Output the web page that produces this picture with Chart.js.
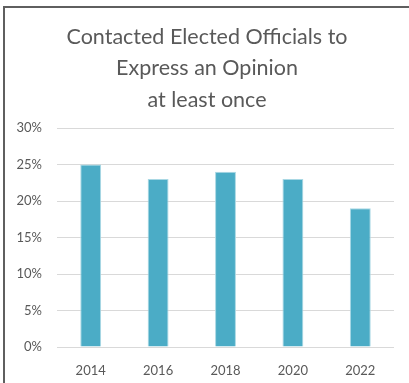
<!DOCTYPE html>
<html>
<head>
<meta charset="utf-8">
<script src="https://cdn.jsdelivr.net/npm/chart.js@4"></script>
<style>
  html, body { margin: 0; padding: 0; background: #fff; }
  .frame {
    position: absolute; left: 3px; top: 6px; right: 0; bottom: 0;
    border-top: 2px solid #5f5f5f; border-left: 2px solid #5f5f5f;
  }
  #chart { position: absolute; left: 0; top: 0; }
</style>
</head>
<body>
<div class="frame"></div>
<canvas id="chart" width="409" height="383"></canvas>
<script>
const years = ['2014', '2016', '2018', '2020', '2022'];
const contacted = [0.25, 0.23, 0.24, 0.23, 0.19];
const titleLines = ['Contacted Elected Officials to', 'Express an Opinion', 'at least once'];

const grey = '#595959';
const font = 'Lato, "Liberation Sans", sans-serif';

// three-line heading, centred on the whole frame rather than the plot
const headingPlugin = {
    id: 'heading',
    afterDraw(chart) {
        const c = chart.ctx;
        c.save();
        c.fillStyle = grey;
        c.font = '21.5px ' + font;
        c.textAlign = 'center';
        c.textBaseline = 'middle';
        titleLines.forEach((line, i) => c.fillText(line, 207, 37 + i * 31.5));
        c.restore();
    }
};

const ctx = document.getElementById('chart').getContext('2d');

new Chart(ctx, {
    type: 'bar',
    data: {
        labels: years,
        datasets: [{
            data: contacted,
            backgroundColor: '#4bacc6',
            borderColor: '#a9d8e4',
            borderWidth: 1,
            barPercentage: 0.31,
            categoryPercentage: 1
        }]
    },
    options: {
        responsive: false,
        animation: false,
        layout: { padding: { top: 128, right: 15, bottom: 0, left: 0 } },
        plugins: {
            legend: { display: false },
            tooltip: { enabled: false }
        },
        scales: {
            x: {
                grid: { display: false },
                border: { display: false },
                ticks: { color: grey, font: { family: font, size: 13 }, padding: 8 },
                afterFit: (scale) => { scale.height = 36; }
            },
            y: {
                min: 0,
                max: 0.3,
                grid: { color: '#d9d9d9', lineWidth: 1, drawTicks: false },
                border: { display: false },
                ticks: {
                    stepSize: 0.05,
                    color: grey,
                    font: { family: font, size: 13 },
                    padding: 15,
                    callback: (v) => Math.round(v * 100) + '%'
                },
                afterFit: (scale) => { scale.width = 57; }
            }
        }
    },
    plugins: [headingPlugin]
});
</script>
</body>
</html>
